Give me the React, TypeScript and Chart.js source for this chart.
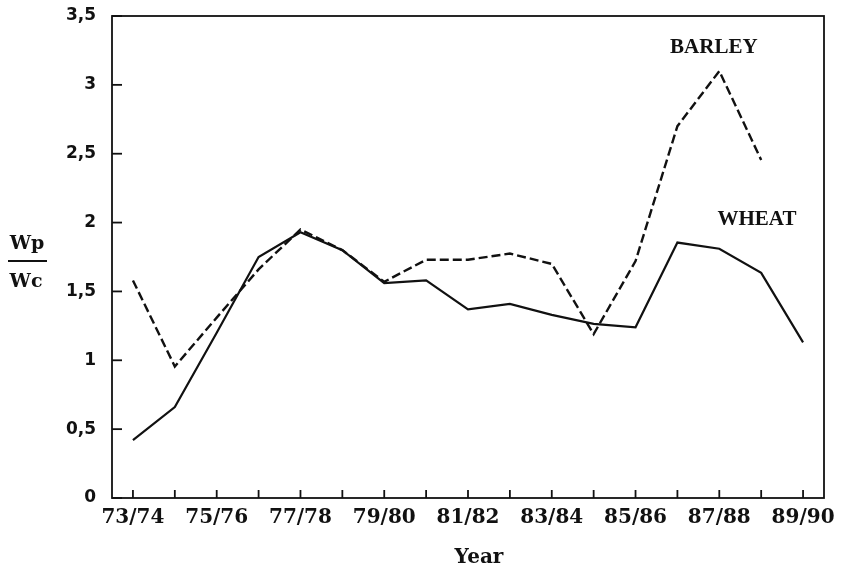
import React, { useEffect, useRef } from "react";
import { Chart, registerables } from "chart.js";

Chart.register(...registerables);

const years = [
  "73/74", "74/75", "75/76", "76/77", "77/78", "78/79", "79/80", "80/81", "81/82",
  "82/83", "83/84", "84/85", "85/86", "86/87", "87/88", "88/89", "89/90",
];
const wheat = [0.42, 0.66, 1.2, 1.75, 1.93, 1.8, 1.56, 1.58, 1.37, 1.41, 1.33, 1.265, 1.24, 1.855, 1.81, 1.635, 1.13];
const barley = [1.58, 0.955, 1.31, 1.66, 1.95, 1.8, 1.57, 1.73, 1.73, 1.775, 1.70, 1.19, 1.72, 2.70, 3.10, 2.455, null];
const yTicks = [0, 0.5, 1, 1.5, 2, 2.5, 3, 3.5];
const seriesLabels = ["WHEAT", "BARLEY"];
const axisTitleX = "Year";
const axisTitleYTop = "Wp";
const axisTitleYBottom = "Wc";

const framePlugin = {
  id: "frame",
  afterDraw(chart: any) {
    const { ctx, chartArea } = chart;
    const xs = chart.scales.x;
    const ys = chart.scales.y;
    const { left, right, top, bottom } = chartArea;
    ctx.save();
    ctx.strokeStyle = "#111";
    ctx.lineWidth = 1.8;
    ctx.strokeRect(left, top, right - left, bottom - top);
    // inward x ticks
    for (let i = 0; i < years.length; i++) {
      const x = xs.getPixelForTick(i);
      ctx.beginPath();
      ctx.moveTo(x, bottom);
      ctx.lineTo(x, bottom - 8);
      ctx.stroke();
    }
    // inward y ticks
    yTicks.forEach((v) => {
      const y = ys.getPixelForValue(v);
      ctx.beginPath();
      ctx.moveTo(left, y);
      ctx.lineTo(left + 10, y);
      ctx.stroke();
    });
    // series labels
    ctx.fillStyle = "#111";
    ctx.font = "bold 21px 'Liberation Serif'";
    ctx.textAlign = "center";
    ctx.textBaseline = "middle";
    ctx.fillText(seriesLabels[1], xs.getPixelForValue(13.87), ys.getPixelForValue(3.27));
    ctx.fillText(seriesLabels[0], xs.getPixelForValue(14.9), ys.getPixelForValue(2.02));
    // x title
    ctx.font = "bold 20px 'DejaVu Serif'";
    ctx.fillText(axisTitleX, (left + right) / 2 + 11, 558);
    // y title (fraction)
    ctx.font = "bold 19px 'DejaVu Serif'";
    ctx.textBaseline = "alphabetic";
    ctx.fillText(axisTitleYTop, 27, 249);
    ctx.fillText(axisTitleYBottom, 26, 287);
    ctx.lineWidth = 1.8;
    ctx.beginPath();
    ctx.moveTo(8, 261);
    ctx.lineTo(47, 261);
    ctx.stroke();
    ctx.restore();
  },
};

export default function App() {
  const ref = useRef<HTMLCanvasElement | null>(null);
  useEffect(() => {
    if (!ref.current) return;
    const chart = new Chart(ref.current, {
      type: "line",
      data: {
        labels: years,
        datasets: [
          {
            label: seriesLabels[0],
            data: wheat,
            borderColor: "#111",
            borderWidth: 2.2,
            pointRadius: 0,
            tension: 0,
            fill: false,
          },
          {
            label: seriesLabels[1],
            data: barley,
            borderColor: "#111",
            borderWidth: 2.4,
            borderDash: [9, 4],
            pointRadius: 0,
            tension: 0,
            fill: false,
          },
        ],
      },
      options: {
        animation: false,
        responsive: false,
        maintainAspectRatio: false,
        layout: { padding: { top: 16, right: 17, left: 0, bottom: 0 } },
        plugins: { legend: { display: false }, tooltip: { enabled: false }, title: { display: false } },
        scales: {
          x: {
            type: "category",
            offset: true,
            grid: { display: false, drawTicks: false },
            border: { display: false },
            ticks: {
              autoSkip: false,
              maxRotation: 0,
              minRotation: 0,
              padding: 8,
              color: "#111",
              font: { family: "'DejaVu Serif'", size: 20, weight: "bold" },
              callback: (_v: any, i: number) => (i % 2 === 0 ? years[i] : ""),
            },
            afterFit: (s: any) => {
              s.height = 73;
              s.paddingLeft = 0;
              s.paddingRight = 0;
            },
          },
          y: {
            min: 0,
            max: 3.5,
            grid: { display: false, drawTicks: false },
            border: { display: false },
            afterBuildTicks: (s: any) => {
              s.ticks = yTicks.map((v) => ({ value: v }));
            },
            ticks: {
              padding: 16,
              color: "#111",
              font: { family: "'DejaVu Sans'", size: 17, weight: "bold" },
              callback: (v: any) => String(v).replace(".", ","),
            },
            afterFit: (s: any) => {
              s.width = 112;
              s.paddingTop = 0;
              s.paddingBottom = 0;
            },
          },
        },
      },
      plugins: [framePlugin],
    });
    return () => chart.destroy();
  }, []);
  return (
    <div style={{ position: "fixed", left: 0, top: 0, width: 841, height: 571, background: "#fff" }}>
      <canvas ref={ref} width={841} height={571} style={{ display: "block" }} />
    </div>
  );
}
